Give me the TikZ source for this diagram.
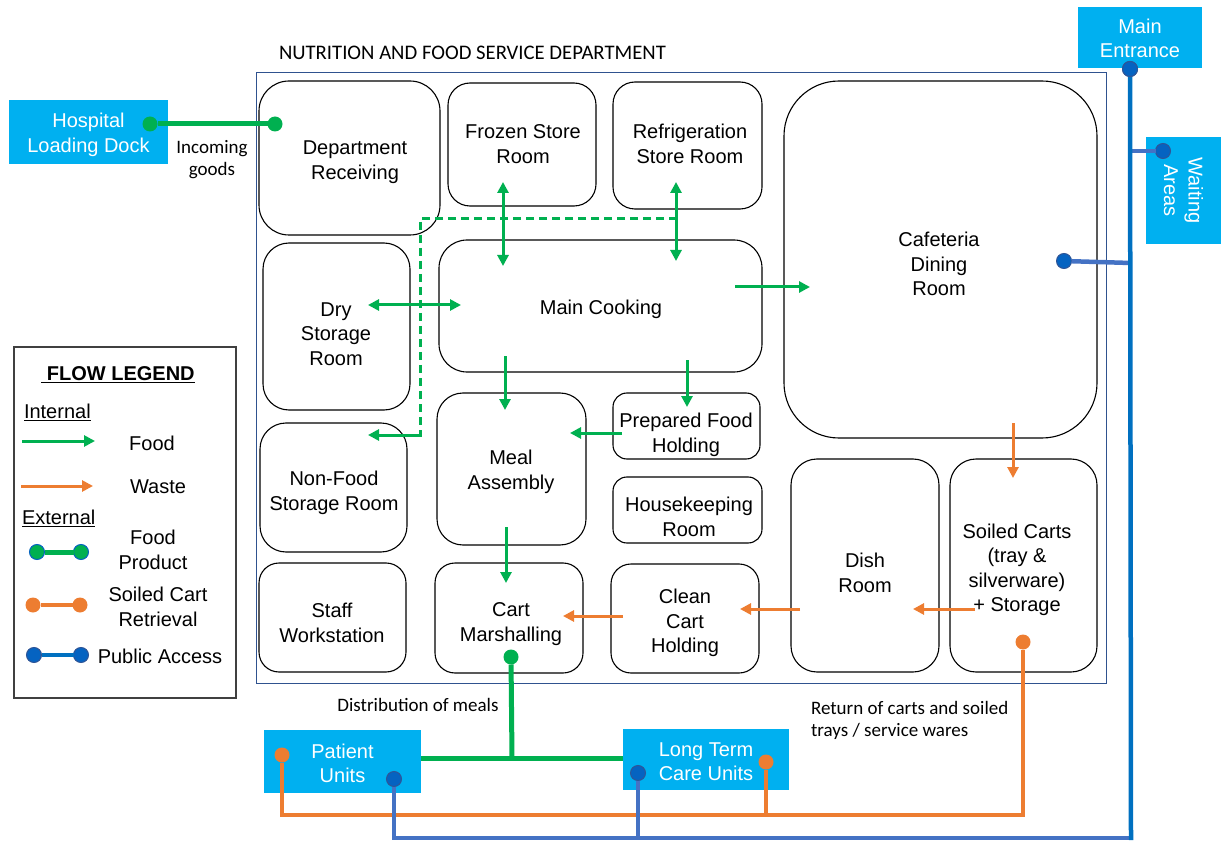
\documentclass[tikz,border=0pt]{standalone}
\usepackage{fontspec}
\setmainfont{Liberation Sans}
\newfontfamily\calfont{Carlito}
\usetikzlibrary{arrows.meta}
\definecolor{foodgreen}{HTML}{00B050}
\definecolor{wasteorange}{HTML}{ED7D31}
\definecolor{accessblue}{HTML}{4472C4}
\definecolor{mainblue}{HTML}{0070C0}
\definecolor{dotblue}{HTML}{0563C1}
\definecolor{dotedge}{HTML}{2F5597}
\definecolor{boxblue}{HTML}{00B0F0}
\definecolor{framecol}{HTML}{2F528F}
\definecolor{legendedge}{HTML}{404040}

\begin{document}
\begin{tikzpicture}[x=1pt,y=-1pt,
  every node/.style={font=\fontsize{20}{24.5}\selectfont, inner sep=0pt, outer sep=0pt},
  room/.style={draw=black, line width=1.1pt, rounded corners=#1, minimum width=10pt},
  room/.default=22pt,
  roomtext/.style={align=center, yshift=-2pt},
  bluebox/.style={fill=boxblue},
  boxlabel/.style={text=white, align=center, yshift=-2pt},
  note/.style={font=\calfont\fontsize{19}{22}\selectfont, align=center},
  foodarrow/.style={draw=foodgreen, line width=3pt, -{Triangle[length=11pt,width=11pt]}},
  foodboth/.style={draw=foodgreen, line width=3pt, {Triangle[length=11pt,width=11pt]}-{Triangle[length=11pt,width=11pt]}},
  foodtransfer/.style={draw=foodgreen, line width=3pt, dash pattern=on 8pt off 5pt},
  wastearrow/.style={draw=wasteorange, line width=3pt, -{Triangle[length=11pt,width=11pt]}},
  extfood/.style={draw=foodgreen, line width=5pt},
  extcart/.style={draw=wasteorange, line width=4.5pt},
  extaccess/.style={draw=accessblue, line width=4.5pt},
  extmain/.style={draw=mainblue, line width=4.5pt},
  gdot/.style={circle, fill=foodgreen, minimum size=15pt},
  odot/.style={circle, fill=wasteorange, minimum size=15pt},
  bdot/.style={circle, fill=dotblue, draw=dotedge, line width=1pt, minimum size=15pt},
  lgdot/.style={circle, fill=foodgreen, draw=dotblue, line width=1pt, minimum size=15pt}
]
\useasboundingbox (0,0) rectangle (1221,842);

% department outline and title
\draw[framecol, line width=1pt] (256,73) rectangle (1106,683);
\node[note, anchor=west, font=\calfont\fontsize{20.7}{24}\selectfont] (title) at (279,53) {NUTRITION AND FOOD SERVICE DEPARTMENT};

% rooms
\node[room=30pt, minimum width=181pt, minimum height=154pt] (recv) at (349.5,158) {};
\node[room, minimum width=148pt, minimum height=123pt] (frozen) at (522,144.5) {};
\node[room, minimum width=149pt, minimum height=127pt] (refrig) at (687.5,145.5) {};
\node[room=55pt, minimum width=313pt, minimum height=357pt] (cafe) at (940.5,259.5) {};
\node[room=26pt, minimum width=147pt, minimum height=167pt] (dry) at (336.5,326.5) {};
\node[room=28pt, minimum width=323pt, minimum height=132pt] (cook) at (600.5,306) {};
\node[room=26pt, minimum width=147pt, minimum height=129pt] (nonfood) at (333.5,487.5) {};
\node[room=26pt, minimum width=149pt, minimum height=152pt] (meal) at (511.5,469) {};
\node[room=14pt, minimum width=147pt, minimum height=66pt] (prep) at (686.5,426) {};
\node[room=14pt, minimum width=149pt, minimum height=66pt] (house) at (687.5,510) {};
\node[room=20pt, minimum width=147pt, minimum height=109pt] (staff) at (332.5,617.5) {};
\node[room=20pt, minimum width=148pt, minimum height=110pt] (cart) at (509,618) {};
\node[room=20pt, minimum width=148pt, minimum height=109pt] (clean) at (685,618.5) {};
\node[room=26pt, minimum width=148pt, minimum height=213pt] (dish) at (865,565.5) {};
\node[room=26pt, minimum width=147pt, minimum height=213pt] (soiled) at (1023.5,565.5) {};

% room names
\node[roomtext] (recv-t) at (355,160) {Department\\Receiving};
\node[roomtext] (frozen-t) at (523,142) {Frozen Store\\Room};
\node[roomtext] (refrig-t) at (690,142) {Refrigeration\\Store Room};
\node[roomtext] (cafe-t) at (939,262) {Cafeteria\\Dining\\Room};
\node[roomtext] (dry-t) at (336,332) {Dry\\Storage\\Room};
\node[roomtext] (cook-t) at (601,307) {Main Cooking};
\node[roomtext] (nonfood-t) at (334,491) {Non-Food\\Storage Room};
\node[roomtext] (meal-t) at (511,470) {Meal\\Assembly};
\node[roomtext] (prep-t) at (686,433) {Prepared Food\\Holding};
\node[roomtext] (house-t) at (689,515) {Housekeeping\\Room};
\node[roomtext] (staff-t) at (332,621) {Staff\\Workstation};
\node[roomtext] (cart-t) at (511,622) {Cart\\Marshalling};
\node[roomtext] (clean-t) at (685,621) {Clean\\Cart\\Holding};
\node[roomtext] (dish-t) at (865,571) {Dish\\Room};
\node[roomtext] (soiled-t) at (1017,568) {Soiled Carts\\(tray \&\\silverware)\\+ Storage};

% outside areas
\node[bluebox, minimum width=159pt, minimum height=64pt] (dock) at (88.5,132) {};
\node[boxlabel, yshift=-1pt] (dock-t) at (dock) {Hospital\\Loading Dock};
\node[bluebox, minimum width=124pt, minimum height=61pt] (entrance) at (1140,37.5) {};
\node[boxlabel, yshift=1pt] (entrance-t) at (entrance) {Main\\Entrance};
\node[bluebox, minimum width=75pt, minimum height=107pt] (waiting) at (1183.5,190.5) {};
\node[text=white, align=center, rotate=-90] (waiting-t) at (waiting) {Waiting\\Areas};
\node[bluebox, minimum width=157pt, minimum height=63pt] (patient) at (342.5,761.5) {};
\node[boxlabel] (patient-t) at (patient) {Patient\\Units};
\node[bluebox, minimum width=166pt, minimum height=61pt] (ltc) at (706,759.5) {};
\node[boxlabel] (ltc-t) at (ltc) {Long Term\\Care Units};

% internal food flow end points
\coordinate (dryIn) at (368,305);
\coordinate (cookW) at (461,305);
\coordinate (frozenIn) at (503,182);
\coordinate (cookNA) at (503,266);
\coordinate (refrigIn) at (676,182);
\coordinate (cookNB) at (676,261);
\coordinate (cookE) at (735,287);
\coordinate (cafeIn) at (810,287);
\coordinate (cookSA) at (505,356);
\coordinate (mealN) at (505,410);
\coordinate (cookSB) at (687,360);
\coordinate (prepN) at (687,407);
\coordinate (prepW) at (622,433);
\coordinate (mealE) at (570,433);
\coordinate (mealS) at (506,527);
\coordinate (cartN) at (506,583);
\coordinate (dashA) at (677,219);
\coordinate (dashB) at (420,219);
\coordinate (dashC) at (420,435);
\coordinate (dashD) at (421.5,435);
\coordinate (nonfoodIn) at (368,435);

\draw[foodboth] (dryIn) -- (cookW);
\draw[foodboth] (frozenIn) -- (cookNA);
\draw[foodboth] (refrigIn) -- (cookNB);
\draw[foodarrow] (cookE) -- (cafeIn);
\draw[foodarrow] (cookSA) -- (mealN);
\draw[foodarrow] (cookSB) -- (prepN);
\draw[foodarrow] (prepW) -- (mealE);
\draw[foodarrow] (mealS) -- (cartN);
\draw[foodtransfer] (dashA) -- (dashB) -- (dashC);
\draw[foodarrow] (dashD) -- (nonfoodIn);

% internal waste flow
\coordinate (cafeS) at (1013,423);
\coordinate (soiledN) at (1013,478);
\coordinate (soiledW) at (975,609);
\coordinate (dishE) at (913,609);
\coordinate (dishW) at (800,609);
\coordinate (cleanE) at (740,609);
\coordinate (cleanW) at (623,616);
\coordinate (cartE) at (563,616);
\draw[wastearrow] (cafeS) -- (soiledN);
\draw[wastearrow] (soiledW) -- (dishE);
\draw[wastearrow] (dishW) -- (cleanE);
\draw[wastearrow] (cleanW) -- (cartE);

% external connection dots
\node[gdot] (dockdot) at (150,124) {};
\node[gdot] (recvdot) at (275,124) {};
\node[gdot] (cartdot) at (511,657) {};
\node[odot] (soileddot) at (1023,642) {};
\node[odot] (patientodot) at (282,755) {};
\node[odot] (ltcodot) at (766,762) {};
\node[bdot] (entrancedot) at (1130,69) {};
\node[bdot] (waitdot) at (1163,151) {};
\node[bdot] (cafedot) at (1064,261) {};
\node[bdot] (patientbdot) at (394,779) {};
\node[bdot] (ltcbdot) at (638,773) {};

% incoming goods
\draw[extfood] (dockdot) -- (recvdot);

% meal distribution
\coordinate (distJoin) at (512,758);
\draw[extfood] (cartdot) -- (distJoin);
\draw[extfood] (patient.east |- distJoin) -- (ltc.west |- distJoin);

% cart return
\coordinate (cartRetR) at (1023,815);
\coordinate (cartRetL) at (282,815);
\coordinate (cartRetM) at (766,815);
\draw[extcart, line join=miter] (soileddot) -- (cartRetR) -- (cartRetL) -- (patientodot);
\draw[extcart] (ltcodot) -- (cartRetM);

% public access
\coordinate (accessR) at (1131,838);
\coordinate (accessL) at (394,838);
\coordinate (accessM) at (638,838);
\coordinate (waitJoin) at (1131,151);
\coordinate (cafeJoin) at (1131,263);
\draw[extaccess, line join=miter] (accessR) -- (accessL) -- (patientbdot);
\draw[extaccess] (ltcbdot) -- (accessM);
\draw[extaccess] (waitdot) -- (waitJoin);
\draw[extaccess] (cafedot) -- (cafeJoin);
\draw[extmain] (entrancedot) -- ([yshift=-2.2pt]accessR);
\node[bdot] (entrancedot-top) at (entrancedot) {};

% annotations
\node[note] (incoming) at (212,160) {Incoming\\goods};
\node[note] (distlabel) at (418,705) {Distribution of meals};
\node[note, anchor=west, align=left] (returnlabel) at (811,720) {Return of carts and soiled\\trays / service wares};

% legend
\node[draw=legendedge, line width=1.5pt, minimum width=222pt, minimum height=351pt] (legend) at (125,522.5) {};
\node (legtitle) at (118,375) {\textbf{\underline{\ FLOW LEGEND}}};
\node[anchor=west] (leginternal) at (24,412) {\underline{Internal}};
\coordinate (lgFoodA) at (22,441);
\coordinate (lgFoodB) at (95,441);
\draw[foodarrow] (lgFoodA) -- (lgFoodB);
\node (legfood) at (152,443) {Food};
\coordinate (lgWasteA) at (21,486);
\coordinate (lgWasteB) at (93,486);
\draw[wastearrow] (lgWasteA) -- (lgWasteB);
\node (legwaste) at (158,487) {Waste};
\node[anchor=west] (legexternal) at (22,518) {\underline{External}};
\node[lgdot] (lgG1) at (37,552) {};
\node[lgdot] (lgG2) at (81,552) {};
\draw[extfood] (lgG1) -- (lgG2);
\node[align=center] (legproduct) at (153,550) {Food\\Product};
\node[odot] (lgO1) at (33,605) {};
\node[odot] (lgO2) at (80,605) {};
\draw[extcart] (lgO1) -- (lgO2);
\node[align=center] (legcart) at (158,607) {Soiled Cart\\Retrieval};
\node[bdot] (lgB1) at (34,655) {};
\node[bdot] (lgB2) at (81,655) {};
\draw[extmain] (lgB1) -- (lgB2);
\node (legpublic) at (160,656) {Public Access};
\end{tikzpicture}
\end{document}
